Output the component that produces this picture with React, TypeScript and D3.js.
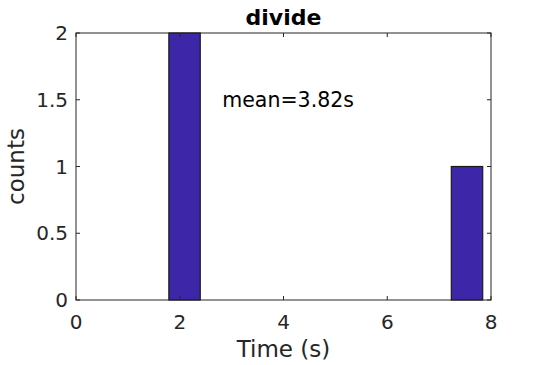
import { useEffect, useRef } from 'react';
import * as d3 from 'd3';

// histogram bin edges (s) and counts per bin
const binEdges = [1.79, 2.395, 3.0, 3.605, 4.21, 4.815, 5.42, 6.025, 6.63, 7.235, 7.84];
const binCounts = [2, 0, 0, 0, 0, 0, 0, 0, 0, 1];
const xTicks = [0, 2, 4, 6, 8];
const yTicks = [0, 0.5, 1, 1.5, 2];
const meanLabel = 'mean=3.82s';
const meanPos = [2.82, 1.5];

const App = () => {
  const svgRef = useRef<SVGSVGElement>(null);

  useEffect(() => {
    const svg = d3.select(svgRef.current);
    svg.selectAll('*').remove();
    const width = 542;
    const height = 365;
    const margin = { top: 33, right: 51, bottom: 65, left: 76 };
    const font = 'DejaVu Sans, sans-serif';
    const ink = '#262626';

    const x = d3.scaleLinear().domain([0, 8]).range([margin.left, width - margin.right]);
    const y = d3.scaleLinear().domain([0, 2]).range([height - margin.bottom, margin.top]);

    svg.append('rect')
      .attr('x', x(0)).attr('y', y(2))
      .attr('width', x(8) - x(0)).attr('height', y(0) - y(2))
      .attr('fill', '#fff');

    const bins = binCounts.map((c, i) => ({ x0: binEdges[i], x1: binEdges[i + 1], c }));
    svg.append('g')
      .selectAll('rect')
      .data(bins)
      .enter()
      .append('rect')
      .attr('x', (d) => x(d.x0))
      .attr('y', (d) => y(d.c))
      .attr('width', (d) => x(d.x1) - x(d.x0))
      .attr('height', (d) => y(0) - y(d.c))
      .attr('fill', '#3d26a8')
      .attr('stroke', '#1a1a1a')
      .attr('stroke-width', 1.2);

    // box
    svg.append('rect')
      .attr('x', x(0)).attr('y', y(2))
      .attr('width', x(8) - x(0)).attr('height', y(0) - y(2))
      .attr('fill', 'none').attr('stroke', ink).attr('stroke-width', 1);

    const tl = 4;
    const ticks = svg.append('g').attr('stroke', ink).attr('stroke-width', 1);
    xTicks.forEach((t) => {
      ticks.append('line').attr('x1', x(t)).attr('x2', x(t)).attr('y1', y(0)).attr('y2', y(0) - tl);
      ticks.append('line').attr('x1', x(t)).attr('x2', x(t)).attr('y1', y(2)).attr('y2', y(2) + tl);
    });
    yTicks.forEach((t) => {
      ticks.append('line').attr('x1', x(0)).attr('x2', x(0) + tl).attr('y1', y(t)).attr('y2', y(t));
      ticks.append('line').attr('x1', x(8)).attr('x2', x(8) - tl).attr('y1', y(t)).attr('y2', y(t));
    });

    svg.append('g')
      .selectAll('text')
      .data(xTicks)
      .enter()
      .append('text')
      .attr('x', (d) => x(d))
      .attr('y', y(0) + 29)
      .attr('text-anchor', 'middle')
      .attr('font-family', font).attr('font-size', 20).attr('fill', ink)
      .text((d) => d);

    svg.append('g')
      .selectAll('text')
      .data(yTicks)
      .enter()
      .append('text')
      .attr('x', x(0) - 8)
      .attr('y', (d) => y(d))
      .attr('dy', '0.35em')
      .attr('text-anchor', 'end')
      .attr('font-family', font).attr('font-size', 20).attr('fill', ink)
      .text((d) => d);

    svg.append('text')
      .attr('x', (x(0) + x(8)) / 2).attr('y', 357)
      .attr('text-anchor', 'middle')
      .attr('font-family', font).attr('font-size', 23).attr('fill', ink)
      .text('Time (s)');

    svg.append('text')
      .attr('transform', `translate(24,${(y(0) + y(2)) / 2}) rotate(-90)`)
      .attr('text-anchor', 'middle')
      .attr('font-family', font).attr('font-size', 23).attr('fill', ink)
      .text('counts');

    svg.append('text')
      .attr('x', (x(0) + x(8)) / 2).attr('y', 25)
      .attr('text-anchor', 'middle')
      .attr('font-family', font).attr('font-size', 22).attr('font-weight', 'bold').attr('fill', '#000')
      .text('divide');

    svg.append('text')
      .attr('x', x(meanPos[0])).attr('y', y(meanPos[1]))
      .attr('dy', '0.35em')
      .attr('font-family', font).attr('font-size', 20.5).attr('fill', '#000')
      .text(meanLabel);
  }, []);

  return (
    <svg ref={svgRef} width={542} height={365} style={{ position: 'absolute', left: 0, top: 0 }} />
  );
};

export default App;
